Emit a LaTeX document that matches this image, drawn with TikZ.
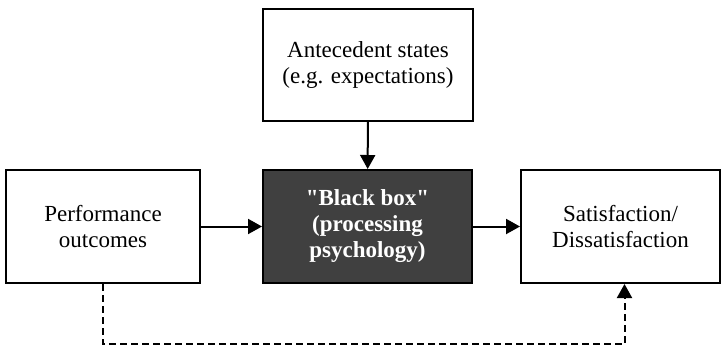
\documentclass[tikz,border=0pt]{standalone}
\usepackage{fontspec}
\setmainfont{Liberation Serif}[Ligatures=TeXOff]
\usepackage{tikz}
\usetikzlibrary{arrows.meta}

\begin{document}
\begin{tikzpicture}[x=1pt,y=-1pt,
        box/.style={draw,line width=2pt,align=center,inner sep=0pt,
            font=\fontsize{23}{26}\selectfont},
        dark/.style={box,fill=black!75,text=white,font=\fontsize{23}{26}\selectfont\bfseries},
        link/.style={line width=2pt,-{Triangle[length=14pt,width=15pt]}}]
        % Page frame
        \useasboundingbox (0,0) rectangle (722,346);

        % Boxes
        \node[box,minimum width=210pt,minimum height=112pt] (ante) at (368,65)
            {Antecedent states\\(e.g. expectations)};
        \node[box,minimum width=194pt,minimum height=113pt] (perf) at (103,226.5)
            {Performance\\outcomes};
        \node[dark,minimum width=209pt,minimum height=113pt] (bbox) at (367.5,226.5)
            {"Black box"\\(processing\\psychology)};
        \node[box,minimum width=199pt,minimum height=113pt] (satis) at (620.5,226.5)
            {Satisfaction/\\Dissatisfaction};

        % Arrows
        \draw[link] (ante) -- (bbox);
        \draw[link] (perf) -- (bbox);
        \draw[link] (bbox) -- (satis);

        % Dashed feedback
        \draw[link,dash pattern=on 7pt off 4pt] (perf.south) -- ++(0,60) -| ([xshift=4pt]satis.south);
    \end{tikzpicture}
\end{document}
